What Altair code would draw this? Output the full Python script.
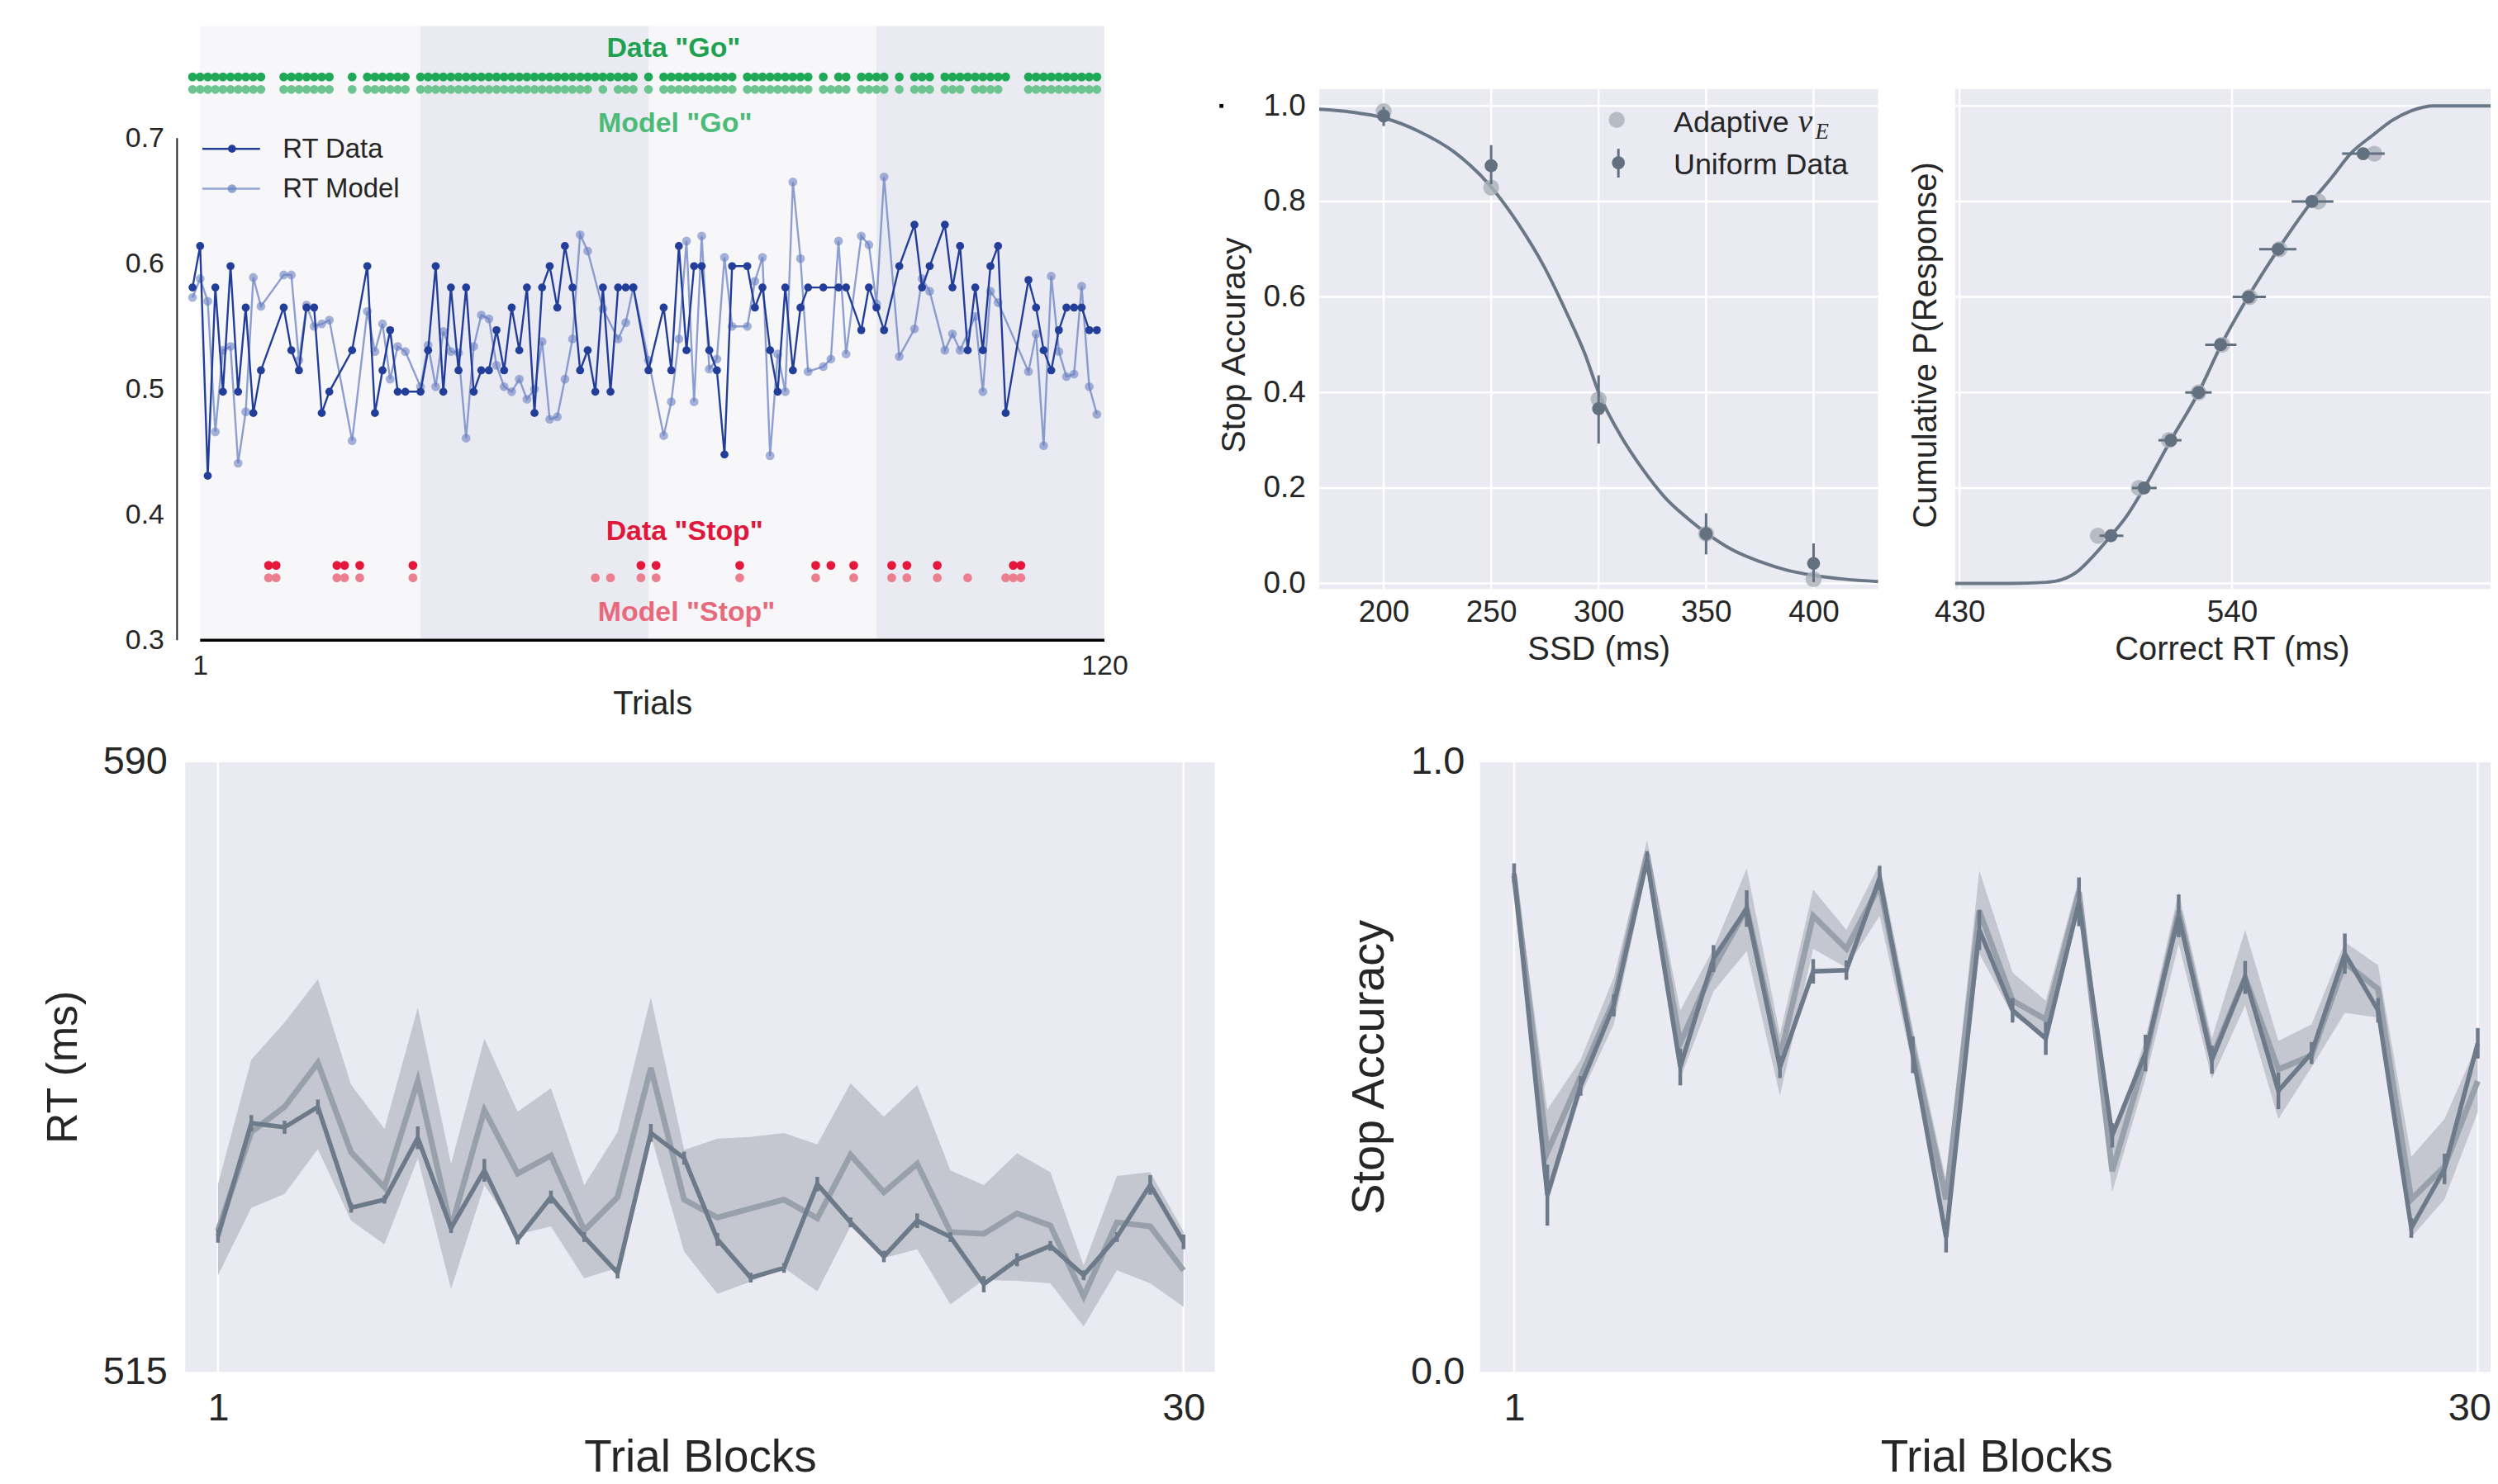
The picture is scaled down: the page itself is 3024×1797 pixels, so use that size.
import altair as alt
import pandas as pd

FONT = "Liberation Sans"
SERIF = "Liberation Serif"
TXT = "#262626"
PANEL_BG = "#EAEAF2"

# ---------------- Panel A: trial-by-trial data ----------------
rt_data = [0.581, 0.614, 0.431, 0.581, 0.498, 0.598, 0.498, 0.565, 0.481, 0.515,
           None, None, 0.565, 0.531, 0.515, 0.565, 0.565, 0.481, 0.498, None,
           None, 0.531, None, 0.598, 0.481, 0.515, 0.547, 0.498, 0.498, None,
           0.498, 0.531, 0.598, 0.498, 0.581, 0.515, 0.581, 0.498, 0.515, 0.515,
           0.547, 0.515, 0.565, 0.531, 0.581, 0.481, 0.581, 0.598, 0.565, 0.614,
           0.581, 0.515, 0.531, 0.498, 0.581, 0.498, 0.581, 0.581, 0.581, None,
           0.515, None, 0.565, 0.515, 0.614, 0.531, 0.598, 0.598, 0.531, 0.515,
           0.448, 0.598, None, 0.598, 0.565, 0.581, 0.531, 0.498, 0.581, 0.515,
           0.565, 0.581, None, 0.581, None, 0.581, 0.581, None, 0.547, 0.581,
           0.565, 0.547, None, 0.598, None, 0.631, 0.581, 0.598, None, 0.631,
           0.581, 0.614, 0.531, 0.581, 0.531, 0.598, 0.614, 0.481, None, None,
           0.587, 0.565, 0.531, 0.515, 0.547, 0.565, 0.565, 0.565, 0.547, 0.547]
rt_model = [0.573, 0.588, 0.570, 0.466, 0.531, 0.534, 0.441, 0.482, 0.589, 0.566,
            None, None, 0.591, 0.591, 0.523, 0.567, 0.550, 0.552, 0.555, None,
            None, 0.459, None, 0.562, 0.530, 0.552, 0.508, 0.534, 0.530, None,
            0.502, 0.535, 0.502, 0.546, 0.530, 0.529, 0.461, 0.534, 0.559, 0.556,
            0.519, 0.502, 0.498, 0.508, 0.492, 0.500, 0.538, 0.476, 0.478, 0.508,
            0.540, 0.623, 0.610, None, 0.564, None, 0.540, 0.553, 0.581, None,
            0.523, None, 0.463, 0.490, 0.540, 0.618, 0.490, 0.622, 0.516, 0.524,
            0.605, 0.550, None, 0.550, 0.586, 0.605, 0.447, 0.528, 0.498, 0.665,
            0.604, 0.514, None, 0.518, 0.524, 0.618, 0.528, None, 0.622, 0.615,
            0.568, 0.669, None, 0.526, None, 0.548, 0.588, 0.578, None, 0.531,
            0.544, 0.531, None, 0.558, 0.498, 0.578, 0.569, None, None, None,
            0.514, 0.544, 0.455, 0.590, 0.530, 0.510, 0.512, 0.582, 0.502, 0.480]
data_stop_trials = [10, 11, 19, 20, 22, 29, 59, 61, 72, 82, 84, 87, 92, 94, 98, 108, 109]
model_stop_trials = [10, 11, 19, 20, 22, 29, 53, 55, 59, 61, 72, 82, 87, 92, 94, 98,
                     102, 107, 108, 109]
block_starts = [1, 30, 60, 90]
block_ends = [30, 60, 90, 120]
block_fills = ["#F7F7FA", "#EAEAF2", "#F7F7FA", "#EAEAF2"]
trial_ticks = [1, 120]
rt_ticks = [0.3, 0.4, 0.5, 0.6, 0.7]

# ---------------- Panel B: inhibition function ----------------
ssd = [200, 250, 300, 350, 400]
acc_adaptive = [0.989, 0.829, 0.386, 0.104, 0.009]
acc_uniform = [0.979, 0.875, 0.366, 0.104, 0.042]
acc_uniform_lo = [0.958, 0.836, 0.293, 0.061, 0.003]
acc_uniform_hi = [0.998, 0.918, 0.436, 0.147, 0.084]
ssd_curve = [170, 185, 200, 216.3, 233, 249.7, 262.2, 274.7, 285.2, 293.5, 300.2,
             310.2, 320.7, 331.1, 341.5, 350.3, 362.4, 374.9, 387.5, 400, 414.6, 430]
acc_curve = [0.993, 0.987, 0.975, 0.947, 0.903, 0.832, 0.756, 0.663, 0.566, 0.482, 0.398,
             0.310, 0.238, 0.179, 0.136, 0.105, 0.070, 0.046, 0.028, 0.017, 0.009, 0.004]
ssd_ticks = [200, 250, 300, 350, 400]
acc_ticks = [0.0, 0.2, 0.4, 0.6, 0.8, 1.0]

# ---------------- Panel C: correct RT CDF ----------------
quantiles = [0.1, 0.2, 0.3, 0.4, 0.5, 0.6, 0.7, 0.8, 0.9]
crt_uniform = [491.1, 504.5, 515.3, 526.5, 535.4, 546.7, 558.7, 572.3, 593.0]
crt_uniform_lo = [486.5, 499.6, 510.3, 521.1, 529.2, 540.3, 551.0, 564.1, 584.5]
crt_uniform_hi = [496.1, 509.6, 519.6, 531.8, 541.8, 553.7, 566.0, 581.0, 601.7]
crt_adaptive = [485.8, 502.4, 514.5, 526.5, 536.0, 547.2, 559.2, 574.9, 597.5]
rt_curve = [428.2, 449.7, 465.0, 471.2, 477.3, 483.5, 491.1, 497.3, 504.5, 515.3, 526.5,
            535.7, 546.5, 558.7, 572.3, 580.3, 587.9, 597.2, 604.8, 612.5, 621.7, 644.5]
p_curve = [0.0, 0.0, 0.0025, 0.008, 0.024, 0.055, 0.1, 0.14, 0.2, 0.3, 0.4,
           0.5, 0.6, 0.7, 0.8, 0.85, 0.9, 0.94, 0.97, 0.99, 1.0, 1.0]
crt_ticks = [430, 540]

# ---------------- Panel D: RT by trial block ----------------
blocks = list(range(1, 31))
blk_rt_data = [531.7, 545.6, 545.1, 547.6, 535.2, 536.2, 543.8, 532.7, 539.8, 531.3,
               536.5, 531.6, 527.2, 544.4, 541.3, 531.3, 526.6, 527.8, 538.1, 533.4,
               529.2, 533.6, 531.6, 525.8, 528.8, 530.5, 526.9, 531.6, 538.0, 531.0]
blk_rt_err = [0.8, 1.0, 0.8, 0.9, 0.6, 0.5, 1.4, 0.6, 1.4, 0.6, 0.8, 0.6, 0.7, 1.1, 0.8,
              0.8, 0.6, 0.6, 0.9, 0.6, 0.7, 0.9, 0.6, 1.0, 0.8, 0.6, 0.6, 0.6, 1.2, 0.9]
blk_rt_model = [532.4, 544.5, 547.6, 553.0, 542.0, 537.7, 550.8, 532.7, 547.2, 539.4,
                541.6, 532.4, 536.5, 552.4, 536.2, 534.0, 535.1, 536.2, 533.9, 541.7,
                537.1, 540.6, 532.2, 532.0, 534.5, 533.0, 524.3, 533.4, 532.9, 527.5]
blk_rt_lo = [526.9, 535.2, 536.9, 542.4, 533.6, 530.7, 541.3, 525.2, 538.0, 531.9,
             532.9, 526.5, 527.8, 544.1, 529.8, 524.6, 526.1, 527.8, 524.9, 532.9,
             529.0, 530.1, 523.3, 526.3, 526.2, 525.9, 520.6, 527.5, 525.9, 523.0]
blk_rt_hi = [538.1, 553.4, 558.0, 563.3, 550.3, 544.9, 559.8, 540.6, 556.0, 547.0,
             549.9, 538.0, 544.5, 561.1, 542.3, 543.7, 543.9, 544.4, 543.0, 550.5,
             546.4, 550.3, 539.8, 538.0, 541.9, 539.6, 528.1, 539.1, 539.6, 532.3]
blk_ticks = [1, 30]
rt_blk_ticks = [515, 590]

# ---------------- Panel E: stop accuracy by trial block ----------------
blk_acc_data = [0.818, 0.290, 0.469, 0.601, 0.840, 0.500, 0.678, 0.760, 0.500, 0.657,
                0.659, 0.810, 0.520, 0.221, 0.725, 0.593, 0.547, 0.771, 0.388, 0.523,
                0.748, 0.512, 0.647, 0.461, 0.523, 0.686, 0.593, 0.236, 0.333, 0.539]
blk_acc_err = [0.016, 0.050, 0.016, 0.018, 0.014, 0.030, 0.022, 0.030, 0.018, 0.020,
               0.016, 0.020, 0.030, 0.025, 0.033, 0.020, 0.027, 0.040, 0.020, 0.030,
               0.035, 0.023, 0.027, 0.030, 0.018, 0.033, 0.020, 0.016, 0.025, 0.025]
blk_acc_model = [0.814, 0.360, 0.484, 0.609, 0.849, 0.539, 0.663, 0.760, 0.516, 0.748,
                 0.694, 0.798, 0.531, 0.283, 0.756, 0.609, 0.578, 0.787, 0.329, 0.516,
                 0.756, 0.516, 0.647, 0.496, 0.519, 0.671, 0.628, 0.283, 0.337, 0.477]
blk_acc_lo = [0.795, 0.275, 0.453, 0.570, 0.826, 0.481, 0.624, 0.690, 0.453, 0.694,
              0.663, 0.748, 0.500, 0.244, 0.686, 0.585, 0.547, 0.764, 0.295, 0.481,
              0.702, 0.481, 0.601, 0.415, 0.500, 0.589, 0.581, 0.221, 0.283, 0.426]
blk_acc_hi = [0.837, 0.430, 0.512, 0.647, 0.872, 0.593, 0.694, 0.826, 0.554, 0.791,
              0.725, 0.833, 0.562, 0.314, 0.822, 0.655, 0.609, 0.810, 0.376, 0.547,
              0.787, 0.547, 0.725, 0.543, 0.570, 0.705, 0.667, 0.353, 0.415, 0.539]
acc_blk_ticks = [0.0, 1.0]

# ---------------- colours ----------------
RT_DATA_C = "#233E98"
RT_MODEL_C = "#6A82C2"
GO_DATA_C = "#1FA855"
GO_MODEL_C = "#6CC58E"
STOP_DATA_C = "#E5173B"
STOP_MODEL_C = "#EC7F8E"
DARK_PT = "#63707F"
LIGHT_PT = "#A9AFB8"
CURVE_C = "#6A7786"
DARK_LINE = "#6C7A8A"
LIGHT_LINE = "#98A0AB"
BAND_C = "#C4C7CF"


def one():
    return pd.DataFrame({"k": [0]})


def make_axis(values, title, offset, lpad, lsize, tsize=None, tx=None, ty=None,
              fmt="d", labels=True, **extra):
    kw = dict(values=values, offset=offset, labelPadding=lpad, labelFontSize=lsize,
              format=fmt, labels=labels, domain=False, ticks=False, grid=False,
              labelFont=FONT, labelColor=TXT, labelOverlap=False)
    if title is None:
        kw["title"] = None
    else:
        kw.update(title=title, titleFontSize=tsize, titleFont=FONT, titleColor=TXT,
                  titleFontWeight="normal", titleX=tx, titleY=ty, titleAlign="center",
                  titleBaseline="middle")
    kw.update(extra)
    return alt.Axis(**kw)


class Panel:
    """Holds the shared scales and axes of one panel so every layer uses the same."""

    def __init__(self, xdom, ydom, xaxis, yaxis):
        self.xs = alt.Scale(domain=xdom, nice=False, zero=False)
        self.ys = alt.Scale(domain=ydom, nice=False, zero=False)
        self.xa = xaxis
        self.ya = yaxis

    def x(self, field):
        return alt.X(field, type="quantitative", scale=self.xs, axis=self.xa)

    def y(self, field):
        return alt.Y(field, type="quantitative", scale=self.ys, axis=self.ya)

    def xd(self, v):
        return alt.XDatum(v, type="quantitative", scale=self.xs, axis=self.xa)

    def yd(self, v):
        return alt.YDatum(v, type="quantitative", scale=self.ys, axis=self.ya)

    def bg(self, x0, x1, y0, y1, color=PANEL_BG):
        return alt.Chart(one()).mark_rect(color=color).encode(
            x=self.xd(x0), x2=alt.X2Datum(x1), y=self.yd(y0), y2=alt.Y2Datum(y1))

    def vgrid(self, values, y0, y1, width=2.5):
        return alt.Chart(pd.DataFrame({"v": values})).mark_rule(
            color="white", strokeWidth=width).encode(
            x=self.x("v"), y=self.yd(y0), y2=alt.Y2Datum(y1))

    def hgrid(self, values, x0, x1, width=2.5):
        return alt.Chart(pd.DataFrame({"v": values})).mark_rule(
            color="white", strokeWidth=width).encode(
            y=self.y("v"), x=self.xd(x0), x2=alt.X2Datum(x1))


def label_text(text, x, y, size, color=TXT, font=FONT, style="normal", align="left",
               baseline="middle", weight="normal"):
    return alt.Chart(one()).mark_text(
        text=text, font=font, fontSize=size, color=color, fontStyle=style, align=align,
        baseline=baseline, fontWeight=weight).encode(x=alt.value(x), y=alt.value(y))


# ======================= Panel A =======================
pA = Panel([-21.0008, 131.8130], [0.22459, 0.78918],
           make_axis(trial_ticks, "Trials", -115, 14, 34, 40, 752, 77, fmt="d"),
           make_axis(rt_ticks, None, -175, 16, 34, fmt=".1f"))

dfA = pd.DataFrame({"trial": list(range(120)), "data": rt_data, "model": rt_model})
d_data = dfA.dropna(subset=["data"])
d_model = dfA.dropna(subset=["model"])
go_data = pd.DataFrame({"trial": [t for t in range(120) if t not in data_stop_trials]})
go_model = pd.DataFrame({"trial": [t for t in range(120) if t not in model_stop_trials]})
st_data = pd.DataFrame({"trial": data_stop_trials})
st_model = pd.DataFrame({"trial": model_stop_trials})
blocks_df = pd.DataFrame({"start": block_starts, "end": block_ends, "fill": block_fills})

A_layers = [
    alt.Chart(blocks_df).mark_rect().encode(
        x=pA.x("start"), x2="end:Q", y=pA.yd(0.3), y2=alt.Y2Datum(0.78918),
        color=alt.Color("fill:N", scale=None)),
    alt.Chart(one()).mark_rule(color="black", strokeWidth=3.5).encode(
        x=pA.xd(1), x2=alt.X2Datum(120), y=pA.yd(0.3)),
    alt.Chart(one()).mark_rule(color="#222222", strokeWidth=2).encode(
        x=alt.value(175), y=pA.yd(0.3), y2=alt.Y2Datum(0.7)),
]
for df_, yv, col in [(go_data, 0.7487, GO_DATA_C), (go_model, 0.7387, GO_MODEL_C),
                     (st_data, 0.3597, STOP_DATA_C), (st_model, 0.3498, STOP_MODEL_C)]:
    A_layers.append(alt.Chart(df_).mark_circle(size=115, color=col, opacity=1).encode(
        x=pA.x("trial"), y=pA.yd(yv)))
for txt, xv, yv, col in [('Data "Go"', 63.3, 0.7711, "#1EA252"),
                         ('Model "Go"', 63.5, 0.7110, "#4DBB78"),
                         ('Data "Stop"', 64.75, 0.3864, "#E0173A"),
                         ('Model "Stop"', 65.0, 0.3218, "#E8697C")]:
    A_layers.append(alt.Chart(one()).mark_text(
        text=txt, font=FONT, fontSize=34, fontWeight="bold", color=col,
        align="center", baseline="middle").encode(x=pA.xd(xv), y=pA.yd(yv)))
A_layers += [
    alt.Chart(d_model).mark_line(color=RT_MODEL_C, strokeWidth=2.4, opacity=0.75).encode(
        x=pA.x("trial"), y=pA.y("model")),
    alt.Chart(d_model).mark_circle(color=RT_MODEL_C, size=115, opacity=0.6).encode(
        x=pA.x("trial"), y=pA.y("model")),
    alt.Chart(d_data).mark_line(color=RT_DATA_C, strokeWidth=2.4).encode(
        x=pA.x("trial"), y=pA.y("data")),
    alt.Chart(d_data).mark_circle(color=RT_DATA_C, size=95, opacity=1).encode(
        x=pA.x("trial"), y=pA.y("data")),
]
for lbl, yy, col, sz, op in [("RT Data", 149, RT_DATA_C, 95, 1.0),
                             ("RT Model", 197.5, RT_MODEL_C, 115, 0.7)]:
    A_layers += [
        alt.Chart(one()).mark_rule(color=col, strokeWidth=2.5, opacity=op).encode(
            x=alt.value(205.7), x2=alt.value(275.7), y=alt.value(yy)),
        alt.Chart(one()).mark_circle(color=col, size=sz, opacity=op).encode(
            x=alt.value(241.7), y=alt.value(yy)),
        label_text(lbl, 303.3, yy + 1, 33),
    ]
panelA = alt.layer(*A_layers).properties(width=1410, height=861)

# ======================= Panel B =======================
pB = Panel([111.877, 437.548], [-0.317241, 1.167241],
           make_axis(ssd_ticks, "SSD (ms)", -177.3, 10, 37, 40, 491, 74, fmt="d"),
           make_axis(acc_ticks, "Stop Accuracy", -151, 16, 37, 41, -102, 387, fmt=".1f"))
dfB = pd.DataFrame({"ssd": ssd, "ad": acc_adaptive, "un": acc_uniform,
                    "lo": acc_uniform_lo, "hi": acc_uniform_hi})
dfBc = pd.DataFrame({"ssd": ssd_curve, "acc": acc_curve})
B_layers = [
    pB.bg(170, 430, -0.0116, 1.0355),
    pB.vgrid(ssd_ticks, -0.0116, 1.0355),
    pB.hgrid(acc_ticks, 170, 430),
    alt.Chart(dfBc).mark_line(color=CURVE_C, strokeWidth=4, interpolate="monotone").encode(
        x=pB.x("ssd"), y=pB.y("acc")),
    alt.Chart(dfB).mark_circle(color=LIGHT_PT, size=380, opacity=0.8).encode(
        x=pB.x("ssd"), y=pB.y("ad")),
    alt.Chart(dfB).mark_rule(color=DARK_PT, strokeWidth=3).encode(
        x=pB.x("ssd"), y=pB.y("lo"), y2="hi:Q"),
    alt.Chart(dfB).mark_circle(color=DARK_PT, size=250, opacity=1).encode(
        x=pB.x("ssd"), y=pB.y("un")),
    alt.Chart(one()).mark_circle(color=LIGHT_PT, size=380, opacity=0.8).encode(
        x=alt.value(513), y=alt.value(114)),
    alt.Chart(one()).mark_rule(color=DARK_PT, strokeWidth=3).encode(
        x=alt.value(515), y=alt.value(149), y2=alt.value(184)),
    alt.Chart(one()).mark_circle(color=DARK_PT, size=250, opacity=1).encode(
        x=alt.value(515), y=alt.value(166)),
    label_text("Adaptive", 582, 129.3, 36, baseline="alphabetic"),
    label_text("v", 733, 129.3, 40, font=SERIF, style="italic", baseline="alphabetic"),
    label_text("E", 754, 137, 27, font=SERIF, style="italic", baseline="alphabetic"),
    label_text("Uniform Data", 582, 180, 36, baseline="alphabetic"),
    alt.Chart(one()).mark_square(color="black", size=22, opacity=1).encode(
        x=alt.value(33), y=alt.value(97)),
]
panelB = alt.layer(*B_layers).properties(width=850, height=861)

# ======================= Panel C =======================
pC = Panel([403.581, 644.477], [-0.317241, 1.167241],
           make_axis(crt_ticks, "Correct RT (ms)", -177.3, 10, 37, 40, 410, 74, fmt="d"),
           make_axis(acc_ticks, "Cumulative P(Response)", -74, 16, 37, 40, -36, 387,
                     fmt=".1f", labels=False))
dfC = pd.DataFrame({"q": quantiles, "un": crt_uniform, "lo": crt_uniform_lo,
                    "hi": crt_uniform_hi, "ad": crt_adaptive})
dfCc = pd.DataFrame({"rt": rt_curve, "p": p_curve})
C_layers = [
    pC.bg(428.2, 644.477, -0.0116, 1.0355),
    pC.vgrid(crt_ticks, -0.0116, 1.0355),
    pC.hgrid(acc_ticks, 428.2, 644.477),
    alt.Chart(dfCc).mark_line(color=CURVE_C, strokeWidth=4, interpolate="monotone").encode(
        x=pC.x("rt"), y=pC.y("p")),
    alt.Chart(dfC).mark_circle(color=LIGHT_PT, size=380, opacity=0.8).encode(
        x=pC.x("ad"), y=pC.y("q")),
    alt.Chart(dfC).mark_rule(color=DARK_PT, strokeWidth=3).encode(
        x=pC.x("lo"), x2="hi:Q", y=pC.y("q")),
    alt.Chart(dfC).mark_circle(color=DARK_PT, size=250, opacity=1).encode(
        x=pC.x("un"), y=pC.y("q")),
]
panelC = alt.layer(*C_layers).properties(width=724, height=861)

# ======================= Panel D =======================
pD = Panel([-4.5586, 34.0323], [501.4907, 593.3419],
           make_axis(blk_ticks, "Trial Blocks", -133.4, 21, 47, 55, 810, 103.4, fmt="d"),
           make_axis(rt_blk_ticks, "RT (ms)", -185, 22, 47, 52, -148, 403, fmt="d"))
dfD = pd.DataFrame({"b": blocks, "d": blk_rt_data, "m": blk_rt_model,
                    "lo": blk_rt_lo, "hi": blk_rt_hi,
                    "elo": [m - e for m, e in zip(blk_rt_data, blk_rt_err)],
                    "ehi": [m + e for m, e in zip(blk_rt_data, blk_rt_err)]})
D_layers = [
    pD.bg(0.0179, 30.94, 515, 590),
    pD.vgrid(blk_ticks, 515, 590),
    alt.Chart(dfD).mark_area(color=BAND_C, opacity=1).encode(
        x=pD.x("b"), y=pD.y("lo"), y2="hi:Q"),
    alt.Chart(dfD).mark_line(color=LIGHT_LINE, strokeWidth=7).encode(
        x=pD.x("b"), y=pD.y("m")),
    alt.Chart(dfD).mark_line(color=DARK_LINE, strokeWidth=5.5).encode(
        x=pD.x("b"), y=pD.y("d")),
    alt.Chart(dfD).mark_rule(color=DARK_LINE, strokeWidth=4.5).encode(
        x=pD.x("b"), y=pD.y("elo"), y2="ehi:Q"),
]
panelD = alt.layer(*D_layers).properties(width=1560, height=907)

# ======================= Panel E =======================
pE = Panel([-4.909, 30.3867], [-0.18012, 1.04456],
           make_axis(blk_ticks, "Trial Blocks", -133.4, 21, 47, 55, 824, 103.4, fmt="d",
                     labelFlush=30, labelFlushOffset=16),
           make_axis(acc_blk_ticks, "Stop Accuracy", -197, 19, 47, 56, -135, 403, fmt=".1f"))
dfE = pd.DataFrame({"b": blocks, "d": blk_acc_data, "m": blk_acc_model,
                    "lo": blk_acc_lo, "hi": blk_acc_hi,
                    "elo": [m - e for m, e in zip(blk_acc_data, blk_acc_err)],
                    "ehi": [m + e for m, e in zip(blk_acc_data, blk_acc_err)]})
E_layers = [
    pE.bg(-0.0262, 30.3867, 0, 1.0),
    pE.vgrid(blk_ticks, 0, 1.0),
    alt.Chart(dfE).mark_area(color=BAND_C, opacity=1).encode(
        x=pE.x("b"), y=pE.y("lo"), y2="hi:Q"),
    alt.Chart(dfE).mark_line(color=LIGHT_LINE, strokeWidth=7).encode(
        x=pE.x("b"), y=pE.y("m")),
    alt.Chart(dfE).mark_line(color=DARK_LINE, strokeWidth=5.5).encode(
        x=pE.x("b"), y=pE.y("d")),
    alt.Chart(dfE).mark_rule(color=DARK_LINE, strokeWidth=4.5).encode(
        x=pE.x("b"), y=pE.y("elo"), y2="ehi:Q"),
]
panelE = alt.layer(*E_layers).properties(width=1424, height=907)

top = alt.hconcat(panelA, panelB, panelC, spacing=0)
bottom = alt.hconcat(panelD, panelE, spacing=0)
chart = alt.vconcat(top, bottom, spacing=0).properties(
    padding={"left": 40, "top": 29, "right": 0, "bottom": 0},
    background="white",
).configure_view(strokeWidth=0, stroke="transparent")

chart.save("out.html", embed_options={"renderer": "svg", "actions": False})
